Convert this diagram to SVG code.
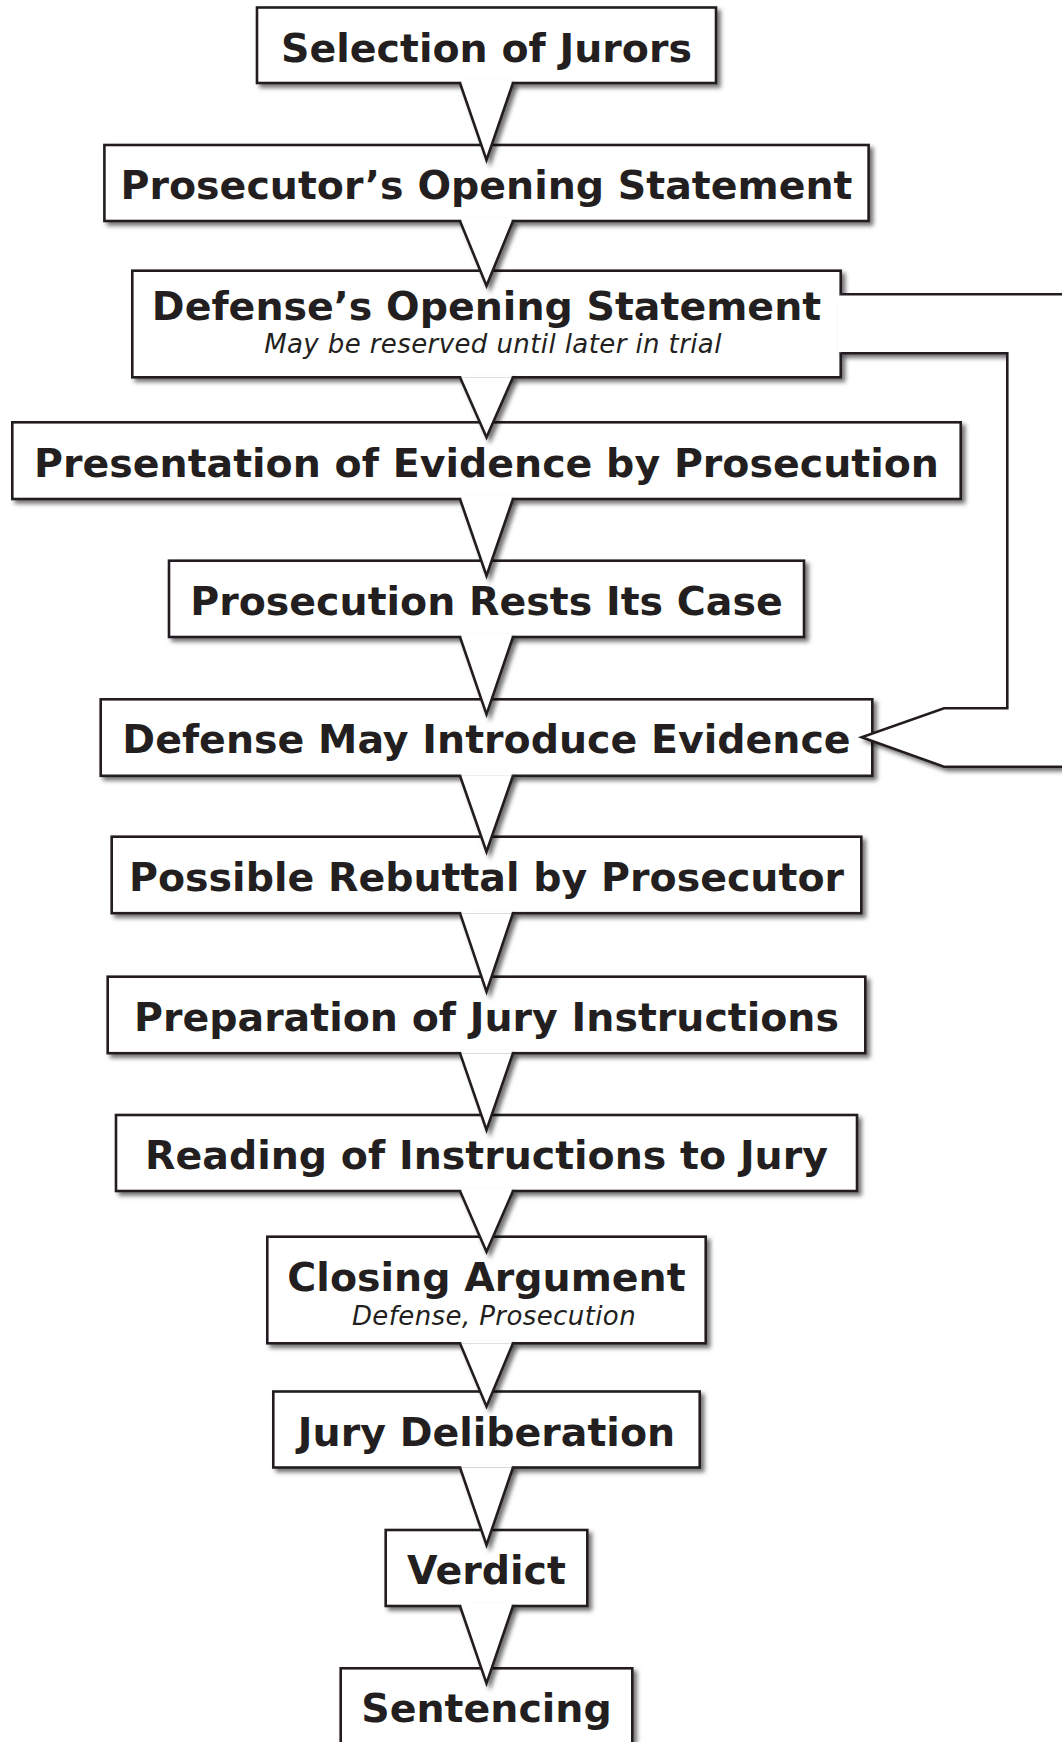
<svg xmlns="http://www.w3.org/2000/svg" width="1062" height="1742" viewBox="0 0 1062 1742">
<defs>
<filter id="sh" x="-10%" y="-10%" width="130%" height="130%">
<feDropShadow dx="3.5" dy="3.5" stdDeviation="2.2" flood-color="#000" flood-opacity="0.55"/>
</filter>
<style>
.box{fill:#fff;stroke:#231f20;stroke-width:2.6;filter:url(#sh)}
.t{font-family:"DejaVu Sans","Verdana",sans-serif;font-weight:bold;font-size:39.5px;fill:#231f20;text-anchor:middle}
.s{font-family:"DejaVu Sans","Verdana",sans-serif;font-style:italic;font-size:26px;letter-spacing:0.4px;fill:#231f20;text-anchor:middle}
.patch{fill:#fff;stroke:none}
.ptr{fill:#fff;stroke:#231f20;stroke-width:2.6;stroke-linejoin:miter}
</style>
</defs>
<rect width="1062" height="1742" fill="#fff"/>

<g id="node-sentencing"><rect class="box" x="340.7" y="1668.3" width="291.6" height="80"/><text class="t" x="486.5" y="1722">Sentencing</text></g>
<g id="node-verdict"><rect class="box" x="385.7" y="1530" width="201.6" height="76"/><text class="t" x="486.5" y="1584">Verdict</text></g>
<g id="node-jury-deliberation"><rect class="box" x="273.3" y="1391.5" width="426.4" height="76"/><text class="t" x="486.5" y="1445.5">Jury Deliberation</text></g>
<g id="node-closing-argument"><rect class="box" x="267.3" y="1236.7" width="438.4" height="106.6"/><text class="t" x="486.5" y="1290.7">Closing Argument</text><text class="s" x="494" y="1325">Defense, Prosecution</text></g>
<g id="node-reading-instructions"><rect class="box" x="116" y="1115" width="741" height="76"/><text class="t" x="486.5" y="1169">Reading of Instructions to Jury</text></g>
<g id="node-preparation-instructions"><rect class="box" x="107.7" y="976.7" width="757.6" height="76.5"/><text class="t" x="486.5" y="1030.8">Preparation of Jury Instructions</text></g>
<g id="node-possible-rebuttal"><rect class="box" x="111.7" y="836.7" width="749.6" height="76.5"/><text class="t" x="486.5" y="890.8">Possible Rebuttal by Prosecutor</text></g>
<g id="node-defense-evidence"><rect class="box" x="100.7" y="699.3" width="771.6" height="76.5"/><text class="t" x="486.5" y="753.4">Defense May Introduce Evidence</text></g>
<g id="node-prosecution-rests"><rect class="box" x="169" y="560.7" width="635" height="76.3"/><text class="t" x="486.5" y="614.8">Prosecution Rests Its Case</text></g>
<g id="node-presentation-evidence"><rect class="box" x="12.3" y="422.3" width="948.4" height="76.7"/><text class="t" x="486.5" y="476.5">Presentation of Evidence by Prosecution</text></g>
<g id="node-defense-opening"><rect class="box" x="132.3" y="270.7" width="708.4" height="106.6"/><text class="t" x="486.5" y="320">Defense’s Opening Statement</text><text class="s" x="493" y="353.3">May be reserved until later in trial</text></g>
<g id="node-prosecutor-opening"><rect class="box" x="104.4" y="145" width="764.2" height="76"/><text class="t" x="486.5" y="199">Prosecutor’s Opening Statement</text></g>
<g id="node-selection-jurors"><rect class="box" x="257" y="7.5" width="459" height="75.5"/><text class="t" x="486.5" y="61.8">Selection of Jurors</text></g>

<g id="connectors" filter="url(#sh)">
<g id="c1"><rect class="patch" x="461.3" y="80.5" width="50.4" height="2.6"/><path class="ptr" d="M460,83 L486.5,160 L513,83"/></g>
<g id="c2"><rect class="patch" x="461.3" y="218.5" width="50.4" height="2.6"/><path class="ptr" d="M460,221 L486.5,285.7 L513,221"/></g>
<g id="c3"><rect class="patch" x="461.3" y="374.8" width="50.4" height="2.6"/><path class="ptr" d="M460,377.3 L486.5,437.3 L513,377.3"/></g>
<g id="c4"><rect class="patch" x="461.3" y="496.5" width="50.4" height="2.6"/><path class="ptr" d="M460,499 L486.5,575.7 L513,499"/></g>
<g id="c5"><rect class="patch" x="461.3" y="634.5" width="50.4" height="2.6"/><path class="ptr" d="M460,637 L486.5,714.3 L513,637"/></g>
<g id="c6"><rect class="patch" x="461.3" y="773.3" width="50.4" height="2.6"/><path class="ptr" d="M460,775.8 L486.5,851.7 L513,775.8"/></g>
<g id="c7"><rect class="patch" x="461.3" y="910.7" width="50.4" height="2.6"/><path class="ptr" d="M460,913.2 L486.5,991.7 L513,913.2"/></g>
<g id="c8"><rect class="patch" x="461.3" y="1050.7" width="50.4" height="2.6"/><path class="ptr" d="M460,1053.2 L486.5,1130 L513,1053.2"/></g>
<g id="c9"><rect class="patch" x="461.3" y="1188.5" width="50.4" height="2.6"/><path class="ptr" d="M460,1191 L486.5,1251.7 L513,1191"/></g>
<g id="c10"><rect class="patch" x="461.3" y="1340.8" width="50.4" height="2.6"/><path class="ptr" d="M460,1343.3 L486.5,1406.5 L513,1343.3"/></g>
<g id="c11"><rect class="patch" x="461.3" y="1465" width="50.4" height="2.6"/><path class="ptr" d="M460,1467.5 L486.5,1545 L513,1467.5"/></g>
<g id="c12"><rect class="patch" x="461.3" y="1603.5" width="50.4" height="2.6"/><path class="ptr" d="M460,1606 L486.5,1683.3 L513,1606"/></g>
<g id="c-defense-arm"><rect class="patch" x="838" y="295.6" width="5" height="56.4"/><path class="ptr" d="M840.7,294.3 H1090 V766.7 H944 L861.7,737.3 L944,708.3 H1007.3 V353.3 H840.7"/></g>
</g>
</svg>
